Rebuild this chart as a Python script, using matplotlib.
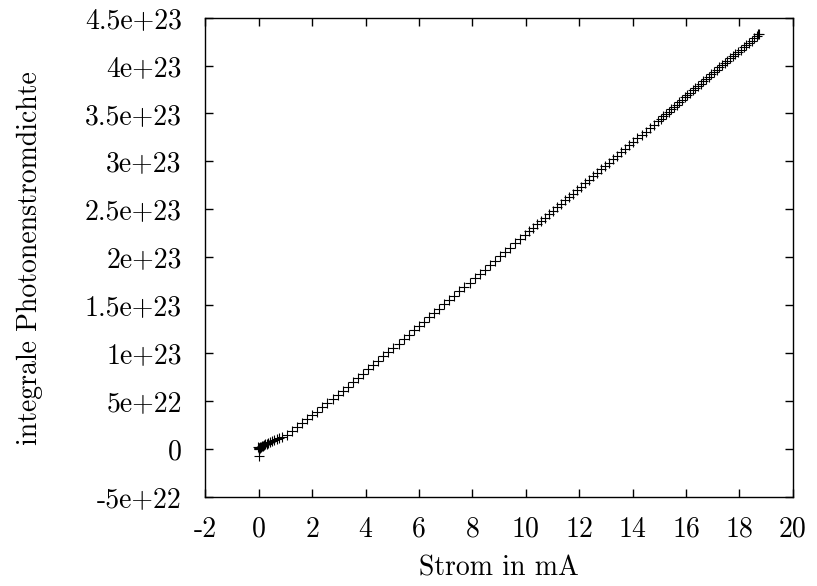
import matplotlib
matplotlib.use("Agg")
import matplotlib.pyplot as plt

plt.rcParams['font.family'] = ['cmr10', 'DejaVu Serif']
plt.rcParams['axes.unicode_minus'] = False
plt.rcParams['mathtext.fontset'] = 'cm'

# Strom in mA
strom = [-0.01, 0.0, 0.0, -0.02, 0.01, 0.02, 0.04, 0.06, 0.08, 0.11, 0.15, 0.19, 0.24, 0.29,
         0.35, 0.42, 0.50, 0.58, 0.67, 0.76,
         0.86, 1.05, 1.24, 1.43, 1.62, 1.81, 2.00, 2.19, 2.38, 2.57, 2.76, 2.95, 3.14, 3.33,
         3.52, 3.71, 3.90, 4.09, 4.28, 4.47, 4.66, 4.85, 5.04, 5.23, 5.42, 5.61, 5.80, 5.99,
         6.18, 6.37, 6.56, 6.75, 6.94, 7.13, 7.32, 7.51, 7.70, 7.89, 8.08, 8.27, 8.46, 8.65,
         8.84, 9.03, 9.22, 9.41, 9.60, 9.79, 9.98,
         10.13, 10.28, 10.43, 10.58, 10.73, 10.88, 11.03, 11.18, 11.33, 11.48, 11.63, 11.78,
         11.93, 12.08, 12.23, 12.38, 12.53, 12.68, 12.83, 12.98, 13.13, 13.28, 13.43, 13.58,
         13.73, 13.88, 14.03, 14.18, 14.33, 14.48, 14.63, 14.78, 14.93,
         15.05, 15.15, 15.25, 15.35, 15.45, 15.55, 15.65, 15.75, 15.85, 15.95, 16.05, 16.15,
         16.25, 16.35, 16.45, 16.55, 16.65, 16.75, 16.85, 16.95, 17.05, 17.15, 17.25, 17.35,
         17.45, 17.55, 17.65, 17.75, 17.85, 17.95, 18.05, 18.15, 18.25, 18.35, 18.45, 18.55,
         18.65, 18.70, 18.72]

# integrale Photonenstromdichte in 1e23
dichte = [-0.07, 0.0, 0.01, 0.02, 0.0, 0.01, 0.02, 0.01, 0.02, 0.03, 0.03, 0.04, 0.05, 0.05,
          0.06, 0.07, 0.08, 0.09, 0.10, 0.11,
          0.12, 0.15, 0.19, 0.23, 0.27, 0.31, 0.35, 0.39, 0.433, 0.475, 0.519, 0.563, 0.607, 0.651,
          0.695, 0.740, 0.785, 0.830, 0.875, 0.920, 0.965, 1.010, 1.055, 1.100, 1.145, 1.191, 1.236, 1.282,
          1.327, 1.372, 1.418, 1.463, 1.509, 1.554, 1.599, 1.645, 1.690, 1.736, 1.781, 1.827, 1.872, 1.917,
          1.963, 2.008, 2.054, 2.099, 2.144, 2.190, 2.235,
          2.271, 2.307, 2.343, 2.379, 2.414, 2.450, 2.486, 2.522, 2.558, 2.594, 2.630, 2.665,
          2.701, 2.737, 2.773, 2.809, 2.845, 2.881, 2.916, 2.952, 2.988, 3.024, 3.060, 3.096,
          3.131, 3.167, 3.203, 3.239, 3.275, 3.311, 3.347, 3.382, 3.418,
          3.447, 3.471, 3.495, 3.520, 3.544, 3.569, 3.593, 3.617, 3.643, 3.667, 3.692, 3.716,
          3.740, 3.764, 3.788, 3.812, 3.836, 3.860, 3.884, 3.908, 3.932, 3.956, 3.980, 4.003,
          4.027, 4.051, 4.074, 4.098, 4.122, 4.146, 4.167, 4.191, 4.212, 4.236, 4.260, 4.283,
          4.307, 4.330, 4.324]

xticks = [-2, 0, 2, 4, 6, 8, 10, 12, 14, 16, 18, 20]
yticks = [-0.5, 0, 0.5, 1, 1.5, 2, 2.5, 3, 3.5, 4, 4.5]
ylabels = ["-5e+22", "0", "5e+22", "1e+23", "1.5e+23", "2e+23", "2.5e+23", "3e+23",
           "3.5e+23", "4e+23", "4.5e+23"]

fig = plt.figure(figsize=(8.17, 5.86), dpi=100)
ax = fig.add_axes([0.2515, 0.152, 0.719, 0.818])

ax.plot(strom, dichte, linestyle='none', marker='+', color='black',
        markersize=7, markeredgewidth=0.8)

ax.set_xlim(-2, 20)
ax.set_ylim(-0.5, 4.5)
ax.set_xticks(xticks)
ax.set_xticklabels([str(t) if t >= 0 else "-" + str(-t) for t in xticks])
ax.set_yticks(yticks)
ax.set_yticklabels(ylabels)
ax.tick_params(direction='in', length=6, width=1, top=True, right=True,
               labelsize=20, colors='black')
ax.tick_params(axis='x', pad=14)
ax.tick_params(axis='y', pad=17)
for s in ax.spines.values():
    s.set_linewidth(1)

fig.text(0.611, 0.03, "Strom in mA", ha='center', va='center', fontsize=20)
fig.text(0.037, 0.56, "integrale Photonenstromdichte", ha='center', va='center',
         rotation=90, fontsize=20)

fig.savefig("out.png", dpi=100)
